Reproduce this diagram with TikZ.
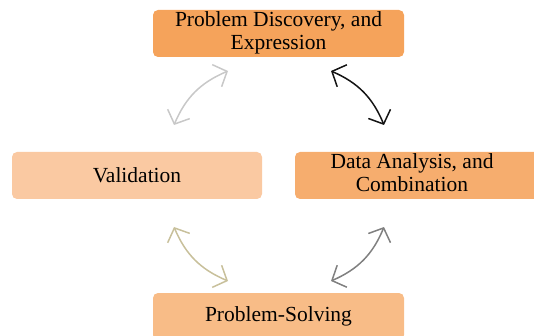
\documentclass[tikz,border=0pt]{standalone}
\usepackage{fontspec}
\setmainfont{Liberation Serif}
\usetikzlibrary{arrows.meta}
\definecolor{cTop}{RGB}{245,163,91}
\definecolor{cData}{RGB}{246,173,110}
\definecolor{cVal}{RGB}{250,201,162}
\definecolor{cSolve}{RGB}{248,188,135}
\definecolor{aLight}{RGB}{200,200,200}
\definecolor{aBlack}{RGB}{20,20,20}
\definecolor{aTan}{RGB}{200,192,155}
\definecolor{aGray}{RGB}{128,128,128}
\renewcommand\arraystretch{0.95}
\tikzset{
  box/.style={draw=none, rounded corners=5pt, minimum height=47pt, align=center,
    inner sep=0pt, font=\fontsize{21.5}{23.5}\selectfont},
  dbl/.style={line width=1.5pt, {Straight Barb[length=11pt,width=24pt]}-{Straight Barb[length=11pt,width=24pt]}},
}
\begin{document}
\begin{tikzpicture}[x=1pt,y=-1pt]
\useasboundingbox (0,0) rectangle (534,336);
\clip (0,0) rectangle (534,336);
\node[box, fill=cTop, minimum width=251pt] (top) at (278.5,33.5)
  {\raisebox{-2pt}{\begin{tabular}{@{}c@{}}Problem Discovery, and\\Expression\end{tabular}}};
\node[box, fill=cVal, minimum width=250pt] (val) at (137,175.5) {Validation};
\node[box, fill=cData, minimum width=251pt] (data) at (420.5,175.5)
  {\raisebox{-2pt}{\begin{tabular}{@{}c@{}}Data Analysis, and\\Combination\end{tabular}}\hspace*{17pt}};
\node[box, fill=cSolve, minimum width=251pt] (solve) at (278.5,316.5) {Problem-Solving};
\coordinate (a1) at (174,125); \coordinate (a2) at (228,71);
\coordinate (b1) at (331,71); \coordinate (b2) at (384,125);
\coordinate (c1) at (174,227); \coordinate (c2) at (228,281);
\coordinate (d1) at (384,227); \coordinate (d2) at (331,281);
\draw[dbl, aLight] (a1) to[bend left=22] (a2);
\draw[dbl, aBlack] (b1) to[bend left=22] (b2);
\draw[dbl, aTan] (c2) to[bend left=22] (c1);
\draw[dbl, aGray] (d1) to[bend left=22] (d2);
\end{tikzpicture}
\end{document}
